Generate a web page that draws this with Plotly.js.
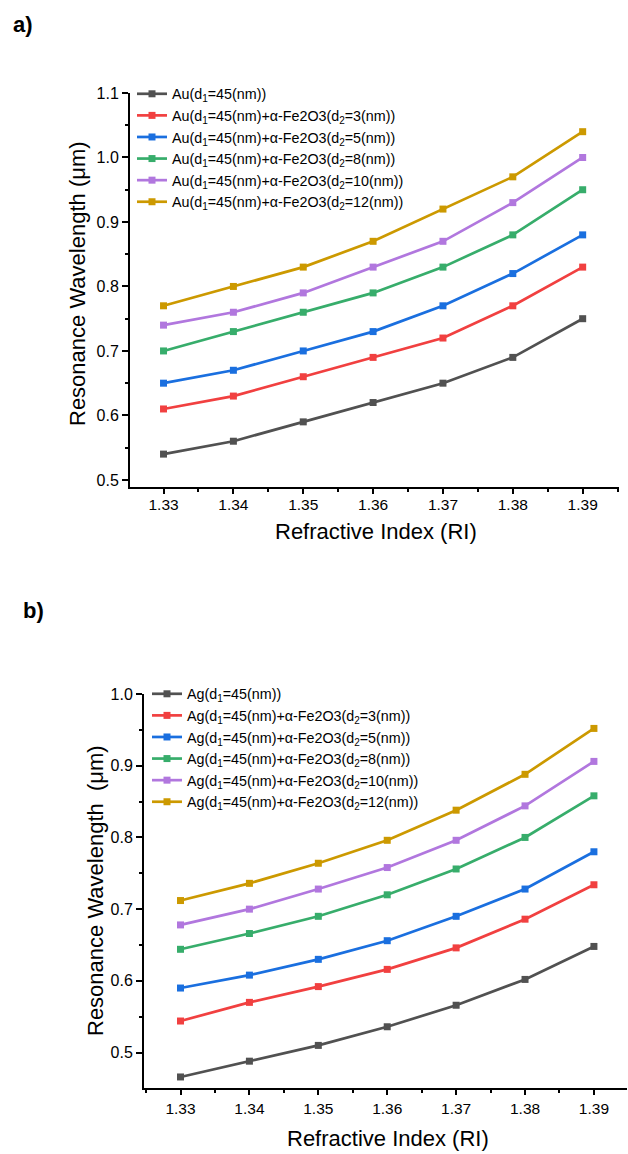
<!DOCTYPE html>
<html>
<head>
<meta charset="utf-8">
<script src="https://cdn.plot.ly/plotly-3.0.1.min.js"></script>
<style>
  html, body { margin: 0; padding: 0; background: #fff; }
  #chart { width: 628px; height: 1154px; }
</style>
</head>
<body>
<div id="chart"></div>
<script>
// Refractive index of the sensing medium (shared x values)
const refractiveIndex = [1.33, 1.34, 1.35, 1.36, 1.37, 1.38, 1.39];

// a) Au based structures: resonance wavelength (µm)
const auNames = [
  'Au(d<sub>1</sub>=45(nm))',
  'Au(d<sub>1</sub>=45(nm)+α-Fe2O3(d<sub>2</sub>=3(nm))',
  'Au(d<sub>1</sub>=45(nm)+α-Fe2O3(d<sub>2</sub>=5(nm))',
  'Au(d<sub>1</sub>=45(nm)+α-Fe2O3(d<sub>2</sub>=8(nm))',
  'Au(d<sub>1</sub>=45(nm)+α-Fe2O3(d<sub>2</sub>=10(nm))',
  'Au(d<sub>1</sub>=45(nm)+α-Fe2O3(d<sub>2</sub>=12(nm))'
];
const auBare = [0.54, 0.56, 0.59, 0.62, 0.65, 0.69, 0.75];
const auFe3  = [0.61, 0.63, 0.66, 0.69, 0.72, 0.77, 0.83];
const auFe5  = [0.65, 0.67, 0.70, 0.73, 0.77, 0.82, 0.88];
const auFe8  = [0.70, 0.73, 0.76, 0.79, 0.83, 0.88, 0.95];
const auFe10 = [0.74, 0.76, 0.79, 0.83, 0.87, 0.93, 1.00];
const auFe12 = [0.77, 0.80, 0.83, 0.87, 0.92, 0.97, 1.04];

// b) Ag based structures: resonance wavelength (µm)
const agNames = [
  'Ag(d<sub>1</sub>=45(nm))',
  'Ag(d<sub>1</sub>=45(nm)+α-Fe2O3(d<sub>2</sub>=3(nm))',
  'Ag(d<sub>1</sub>=45(nm)+α-Fe2O3(d<sub>2</sub>=5(nm))',
  'Ag(d<sub>1</sub>=45(nm)+α-Fe2O3(d<sub>2</sub>=8(nm))',
  'Ag(d<sub>1</sub>=45(nm)+α-Fe2O3(d<sub>2</sub>=10(nm))',
  'Ag(d<sub>1</sub>=45(nm)+α-Fe2O3(d<sub>2</sub>=12(nm))'
];
const agBare = [0.466, 0.488, 0.510, 0.536, 0.566, 0.602, 0.648];
const agFe3  = [0.544, 0.570, 0.592, 0.616, 0.646, 0.686, 0.734];
const agFe5  = [0.590, 0.608, 0.630, 0.656, 0.690, 0.728, 0.780];
const agFe8  = [0.644, 0.666, 0.690, 0.720, 0.756, 0.800, 0.858];
const agFe10 = [0.678, 0.700, 0.728, 0.758, 0.796, 0.844, 0.906];
const agFe12 = [0.712, 0.736, 0.764, 0.796, 0.838, 0.888, 0.952];

const xTickLabels = ['1.33', '1.34', '1.35', '1.36', '1.37', '1.38', '1.39'];

const palette = ['#515151', '#F14040', '#1A6FDF', '#37AD6B', '#B177DE', '#CC9900'];
const FONT = 'Liberation Sans, Arial, Helvetica, sans-serif';

function series(name, ys, color, xa, ya, legend) {
  return {
    type: 'scatter', mode: 'lines+markers', name: name,
    x: refractiveIndex, y: ys, xaxis: xa, yaxis: ya, legend: legend,
    line: { color: color, width: 2.7 },
    marker: { symbol: 'square', size: 7, color: color }
  };
}

const auSets = [auBare, auFe3, auFe5, auFe8, auFe10, auFe12];
const agSets = [agBare, agFe3, agFe5, agFe8, agFe10, agFe12];
const traces = [];
auSets.forEach((ys, i) => traces.push(series(auNames[i], ys, palette[i], 'x', 'y', 'legend')));
agSets.forEach((ys, i) => traces.push(series(agNames[i], ys, palette[i], 'x2', 'y2', 'legend2')));

const W = 628, H = 1154;
const px = v => v / W;
const py = v => 1 - v / H;

function xAxis(domain, range, anchor, standoff) {
  return {
    domain: domain, range: range, anchor: anchor,
    tickmode: 'array', tickvals: refractiveIndex, ticktext: xTickLabels,
    ticks: 'outside', ticklen: 5, tickwidth: 2, tickcolor: '#000',
    ticklabelstandoff: standoff,
    minor: { tickmode: 'linear', tick0: 1.325, dtick: 0.01, ticks: 'outside', ticklen: 3, tickwidth: 2, tickcolor: '#000' },
    showline: true, linewidth: 2, linecolor: '#000',
    showgrid: false, zeroline: false,
    tickfont: { family: FONT, size: 15.5, color: '#000' }
  };
}
function yAxis(domain, range, anchor) {
  return {
    domain: domain, range: range, anchor: anchor,
    tickmode: 'linear', tick0: 0.5, dtick: 0.1, tickformat: '.1f',
    ticks: 'outside', ticklen: 6, tickwidth: 2, tickcolor: '#000',
    minor: { tickmode: 'linear', tick0: 0.45, dtick: 0.1, ticks: 'outside', ticklen: 3, tickwidth: 2, tickcolor: '#000' },
    showline: true, linewidth: 2, linecolor: '#000',
    showgrid: false, zeroline: false,
    tickfont: { family: FONT, size: 16, color: '#000' }
  };
}

const legendStyle = {
  bgcolor: 'rgba(0,0,0,0)', borderwidth: 0,
  font: { family: FONT, size: 14.3, color: '#000' },
  xanchor: 'left', yanchor: 'top', tracegroupgap: 0, itemwidth: 30
};

function label(text, x, y, size, angle) {
  return {
    text: text, xref: 'paper', yref: 'paper', x: px(x), y: py(y),
    xanchor: 'center', yanchor: 'middle', textangle: angle || 0, showarrow: false,
    font: { family: FONT, size: size, color: '#000' }
  };
}

const layout = {
  width: W, height: H,
  margin: { l: 0, r: 0, t: 0, b: 0 },
  paper_bgcolor: '#fff', plot_bgcolor: '#fff',
  showlegend: true,
  xaxis: xAxis([px(130), px(619)], [1.3252, 1.3952], 'y', -3),
  yaxis: yAxis([py(487), py(93)], [0.489, 1.1], 'x'),
  xaxis2: xAxis([px(144), px(627)], [1.3247, 1.3948], 'y2', 0),
  yaxis2: yAxis([py(1088), py(694)], [0.4506, 1.0], 'x2'),
  legend: Object.assign({ x: px(132), y: py(78) }, legendStyle),
  legend2: Object.assign({ x: px(147), y: py(678) }, legendStyle),
  annotations: [
    label('<b>a)</b>', 23, 24, 22),
    label('<b>b)</b>', 33, 610, 22),
    label('Resonance Wavelength (μm)', 77, 284, 22, -90),
    label('Refractive Index (RI)', 376, 531, 22),
    label('Resonance Wavelength  (μm)', 95, 891, 22, -90),
    label('Refractive Index (RI)', 388, 1138, 22)
  ]
};

Plotly.newPlot('chart', traces, layout, { staticPlot: true, displayModeBar: false });
</script>
</body>
</html>
